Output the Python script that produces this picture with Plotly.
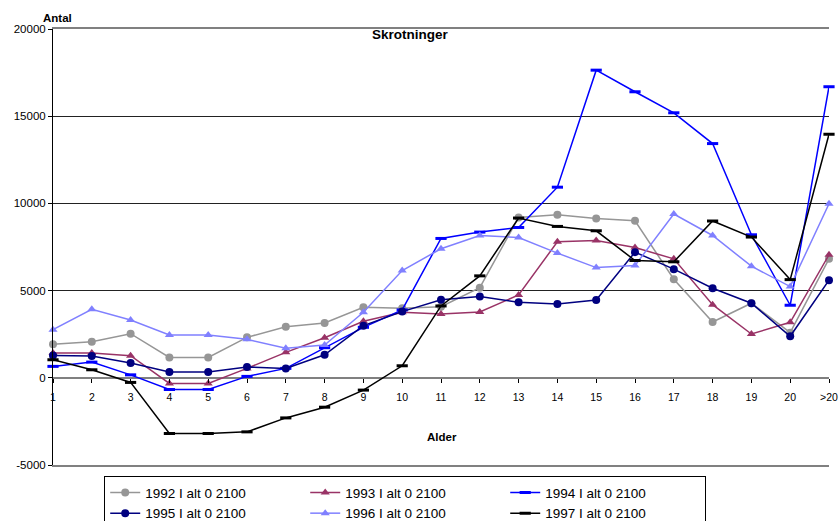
import plotly.graph_objects as go

categories = [str(i) for i in range(1, 21)] + [">20"]

y1992 = [1920, 2070, 2530, 1170, 1170, 2320, 2930, 3140, 4045, 3990, 4080, 5170, 9195, 9350, 9140, 9000, 5650, 3200, 4275, 2590, 6820]
y1993 = [1420, 1420, 1265, -320, -320, 540, 1460, 2300, 3240, 3760, 3660, 3775, 4750, 7800, 7870, 7470, 6820, 4195, 2510, 3180, 7050]
y1994 = [655, 900, 170, -670, -670, 80, 540, 1725, 2895, 3890, 7990, 8355, 8620, 10930, 17640, 16400, 15195, 13430, 8200, 4160, 16690]
y1995 = [1285, 1245, 845, 330, 330, 615, 540, 1320, 2990, 3795, 4480, 4655, 4330, 4235, 4465, 7205, 6230, 5135, 4275, 2380, 5600]
y1996 = [2760, 3930, 3315, 2455, 2455, 2205, 1690, 1880, 3760, 6150, 7400, 8160, 8045, 7150, 6320, 6440, 9390, 8160, 6400, 5230, 9980]
y1997 = [1035, 460, -265, -3195, -3195, -3100, -2300, -1685, -705, 690, 4120, 5845, 9160, 8680, 8430, 6725, 6650, 8990, 8070, 5630, 13965]

names = ["1992 I alt 0 2100", "1993 I alt 0 2100", "1994 I alt 0 2100",
         "1995 I alt 0 2100", "1996 I alt 0 2100", "1997 I alt 0 2100"]
series = [y1992, y1993, y1994, y1995, y1996, y1997]
colors = ["#969696", "#993366", "#0000FF", "#000080", "#8080FF", "#000000"]
symbols = ["circle", "triangle-up", "line-ew", "circle", "triangle-up", "line-ew"]
yticks = [-5000, 0, 5000, 10000, 15000, 20000]
ytick_labels = ["-5000", "0", "5000", "10000", "15000", "20000"]

FONT = "Liberation Sans, Arial, sans-serif"

fig = go.Figure()
for name, ys, col, sym in zip(names, series, colors, symbols):
    if sym == "line-ew":
        marker = dict(symbol=sym, size=8, color=col, line=dict(width=3, color=col))
    else:
        marker = dict(symbol=sym, size=8, color=col, line=dict(width=0))
    fig.add_trace(go.Scatter(x=categories, y=ys, name=name, mode="lines+markers",
                             line=dict(color=col, width=1.5), marker=marker,
                             cliponaxis=False))

# invisible helper trace for top/bottom frame lines
fig.add_trace(go.Scatter(x=categories, y=[None] * len(categories), xaxis="x2",
                         showlegend=False, hoverinfo="skip"))

fig.update_layout(
    width=840, height=521,
    margin=dict(l=53, r=11, t=29, b=56, autoexpand=False),
    paper_bgcolor="white", plot_bgcolor="white",
    font=dict(family=FONT, color="black"),
    xaxis=dict(type="category", range=[0, 20], anchor="free", position=0.2,
               showline=False, showgrid=False, zeroline=False,
               ticks="outside", ticklen=4, tickcolor="black", tickwidth=1,
               dtick=1, tickfont=dict(size=10.5, family=FONT),
               ticklabelstandoff=6),
    xaxis2=dict(type="category", range=[0, 20], overlaying="x", anchor="y",
                showline=True, mirror=True, linecolor="#808080", linewidth=2,
                showticklabels=False, ticks="", showgrid=False, zeroline=False),
    yaxis=dict(range=[-5000, 20000], tickvals=yticks, ticktext=ytick_labels,
               showline=True, linecolor="black", linewidth=1,
               ticks="outside", ticklen=4, tickcolor="black",
               showgrid=True, gridcolor="#222222", gridwidth=1,
               zeroline=True, zerolinecolor="#808080", zerolinewidth=2,
               tickfont=dict(size=11.5, family=FONT)),
    legend=dict(orientation="h", x=0.066, y=-0.026, xanchor="left", yanchor="top",
                bordercolor="black", borderwidth=1, bgcolor="white",
                entrywidth=155, entrywidthmode="pixels",
                font=dict(size=13.5, family=FONT), traceorder="normal"),
    showlegend=True,
    annotations=[
        dict(text="<b>Skrotninger</b>", x=0.4613, y=0.9885, xref="paper", yref="paper",
             xanchor="center", yanchor="middle", showarrow=False,
             font=dict(size=13.5, family=FONT)),
        dict(text="<b>Antal</b>", x=0.0064, y=1.025, xref="paper", yref="paper",
             xanchor="center", yanchor="middle", showarrow=False,
             font=dict(size=11.5, family=FONT)),
        dict(text="<b>Alder</b>", x=0.5013, y=0.0635, xref="paper", yref="paper",
             xanchor="center", yanchor="middle", showarrow=False,
             font=dict(size=11.5, family=FONT)),
    ],
)

fig.write_html("out.html")
